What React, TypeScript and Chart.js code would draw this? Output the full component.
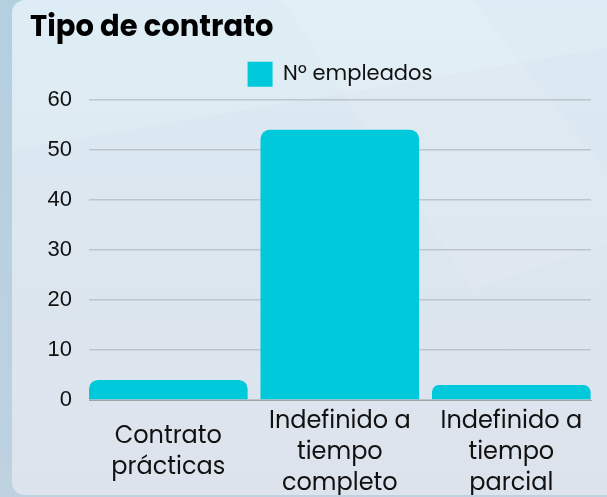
import React, { useEffect, useRef } from "react";
import { Chart, registerables } from "chart.js";

Chart.register(...registerables);

const TITLE = "Tipo de contrato";
const SERIES_LABEL = "Nº empleados";
const CATEGORIES: string[][] = [
  ["Contrato", "prácticas"],
  ["Indefinido a", "tiempo", "completo"],
  ["Indefinido a", "tiempo", "parcial"],
];
const VALUES = [4, 54, 3];
const Y_MIN = 0;
const Y_MAX = 60;
const Y_STEP = 10;
const X_MIN = -0.4624;
const X_MAX = 2.4647;

const TEXT_FONT = "Poppins, 'Open Sans', sans-serif";
const NUM_FONT = "'Liberation Sans', Arial, sans-serif";
const BAR_COLOR = "#00c9dc";

export default function App() {
  const ref = useRef<HTMLCanvasElement | null>(null);

  useEffect(() => {
    document.body.style.margin = "0";
    if (!ref.current) return;
    const chart = new Chart(ref.current, {
      type: "bar",
      data: {
        datasets: [
          {
            label: SERIES_LABEL,
            data: VALUES.map((v, i) => ({ x: i, y: v })),
            backgroundColor: BAR_COLOR,
            borderWidth: 0,
            borderRadius: 9,
            barPercentage: 0.925,
            categoryPercentage: 1,
          },
        ],
      },
      options: {
        responsive: false,
        animation: false,
        devicePixelRatio: 1,
        layout: { padding: { left: 30, right: 16, top: 11, bottom: 2 } },
        plugins: {
          title: {
            display: true,
            text: TITLE,
            align: "start",
            color: "#000",
            font: { family: TEXT_FONT, size: 29, weight: "bold", lineHeight: 1.2 },
            padding: { top: 0, bottom: 0 },
          },
          subtitle: {
            display: true,
            text: "",
            position: "top",
            fullSize: false,
            weight: 500,
            font: { size: 3, lineHeight: 1 },
            padding: 0,
          },
          legend: {
            display: true,
            position: "top",
            fullSize: false,
            labels: {
              boxWidth: 25,
              boxHeight: 25,
              color: "#111",
              padding: 16,
              font: { family: TEXT_FONT, size: 21 },
            },
          },
          tooltip: { enabled: false },
        },
        scales: {
          x: {
            type: "linear",
            min: X_MIN,
            max: X_MAX,
            bounds: "data",
            offset: false,
            grid: { display: false, drawTicks: false, offset: false },
            border: { display: true, color: "#a3a3a3", width: 1 },
            afterBuildTicks: (scale: any) => {
              scale.ticks = CATEGORIES.map((_, i) => ({ value: i }));
            },
            ticks: {
              color: "#111",
              padding: 22,
              maxRotation: 0,
              autoSkip: false,
              crossAlign: "center",
              font: { family: TEXT_FONT, size: 24, lineHeight: 1.29 },
              callback: (v: any) => {
                const i = Math.round(Number(v));
                return CATEGORIES[i] ? CATEGORIES[i] : "";
              },
            },
            afterFit: (scale: any) => {
              scale.height = 95;
            },
          },
          y: {
            min: Y_MIN,
            max: Y_MAX,
            grid: { color: "#bcc5cc", lineWidth: 1.5, drawTicks: false },
            border: { display: false },
            ticks: {
              stepSize: Y_STEP,
              color: "#111",
              padding: 17,
              font: { family: NUM_FONT, size: 22 },
            },
            afterFit: (scale: any) => {
              scale.width = 59;
            },
          },
        },
      },
    });
    return () => chart.destroy();
  }, []);

  return (
    <div
      style={{
        position: "fixed",
        left: 0,
        top: 0,
        width: 607,
        height: 497,
        overflow: "hidden",
        background: "linear-gradient(180deg, #b3cfe0 0%, #bed2e0 100%)",
      }}
    >
      <div
        style={{
          position: "absolute",
          left: 12,
          top: 0,
          width: 640,
          height: 495,
          borderRadius: 13,
          overflow: "hidden",
          background: "linear-gradient(180deg, #deedf5 0%, #dfe9f1 55%, #e0e6ee 100%)",
        }}
      >
        <div
          style={{
            position: "absolute",
            inset: 0,
            background: "rgba(255,255,255,0.12)",
            clipPath: "polygon(270px 0px, 460px 0px, 640px 230px, 460px 290px)",
          }}
        />
        <div
          style={{
            position: "absolute",
            inset: 0,
            background: "rgba(200,210,225,0.10)",
            clipPath: "polygon(0px 150px, 640px 40px, 640px 495px, 0px 495px)",
          }}
        />
      </div>
      <canvas
        ref={ref}
        width={607}
        height={497}
        style={{ position: "absolute", left: 0, top: 0, width: 607, height: 497 }}
      />
    </div>
  );
}
